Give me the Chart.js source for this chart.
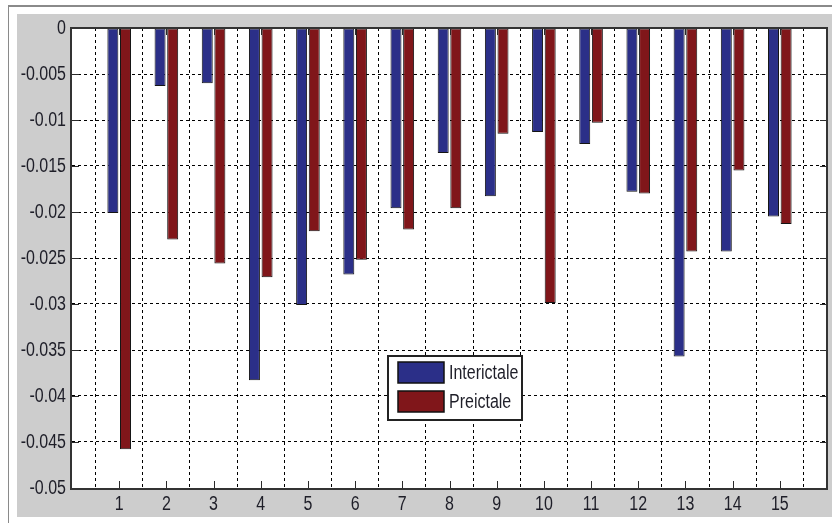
<!DOCTYPE html>
<html>
<head>
<meta charset="utf-8">
<script src="https://cdn.jsdelivr.net/npm/chart.js@4"></script>
<style>
    html, body { margin: 0; padding: 0; background: #ffffff; }
    #wrap { position: relative; width: 832px; height: 523px; overflow: hidden; }
    #frame { position: absolute; left: 8px; top: 5px; width: 830px; height: 530px;
             border-top: 2px solid #8a8a8a; border-left: 1px solid #8a8a8a; }
    #figure { position: absolute; left: 17px; top: 14px; width: 815px; height: 503px; background: #cdcdcd; }
    #chart { position: absolute; left: 0; top: 0; }
</style>
</head>
<body>
<div id="wrap">
    <div id="frame"></div>
    <div id="figure"></div>
    <canvas id="chart" width="832" height="523"></canvas>
</div>
<script>
// categories (channel index)
const categories = [1, 2, 3, 4, 5, 6, 7, 8, 9, 10, 11, 12, 13, 14, 15];

// series values
const interictale = [-0.0201, -0.0063, -0.0060, -0.0383, -0.0301, -0.0268, -0.0196, -0.0136,
                     -0.0183, -0.0113, -0.0126, -0.0178, -0.0357, -0.0243, -0.0205];
const preictale = [-0.0458, -0.0230, -0.0256, -0.0271, -0.0221, -0.0252, -0.0219, -0.0196,
                   -0.0115, -0.0299, -0.0103, -0.0180, -0.0243, -0.0155, -0.0213];

const seriesLabels = ['Interictale', 'Preictale'];

// tick values and their labels
const xTickLabels = ['1', '2', '3', '4', '5', '6', '7', '8', '9', '10', '11', '12', '13', '14', '15'];
const yTicks = [0, -0.005, -0.01, -0.015, -0.02, -0.025, -0.03, -0.035, -0.04, -0.045, -0.05];
const yTickLabels = ['0', '-0.005', '-0.01', '-0.015', '-0.02', '-0.025', '-0.03', '-0.035', '-0.04', '-0.045', '-0.05'];

// MATLAB's narrow Arial look: Liberation Sans squeezed horizontally
const FONT = "20px 'Liberation Sans', Arial, sans-serif";
const SQUEEZE = 0.8;
const TEXT_COLOR = '#1e1e28';

function narrowText(ctx, text, x, y, align) {
    ctx.save();
    ctx.translate(x, y);
    ctx.scale(SQUEEZE, 1);
    ctx.font = FONT;
    ctx.textAlign = align;
    ctx.textBaseline = 'middle';
    ctx.fillStyle = TEXT_COLOR;
    ctx.fillText(text, 0, 0);
    ctx.restore();
}

// white plot background
const plotBackground = {
    id: 'plotBackground',
    beforeDraw(chart) {
        const { ctx, chartArea: a } = chart;
        ctx.save();
        ctx.fillStyle = '#ffffff';
        ctx.fillRect(a.left, a.top, a.right - a.left, a.bottom - a.top);
        ctx.restore();
    }
};

// axes box with inward ticks, tick labels and the legend box inside the plot
const matlabBox = {
    id: 'matlabBox',
    afterDraw(chart) {
        const { ctx, chartArea: a } = chart;
        const x = chart.scales.x;
        const y = chart.scales.y;
        const tick = 7;
        ctx.save();
        ctx.strokeStyle = '#2a2a2a';
        ctx.lineWidth = 1;
        ctx.beginPath();
        categories.forEach(c => {
            const px = Math.round(x.getPixelForValue(c)) + 0.5;
            ctx.moveTo(px, a.bottom); ctx.lineTo(px, a.bottom - tick);
            ctx.moveTo(px, a.top); ctx.lineTo(px, a.top + tick);
        });
        yTicks.forEach(t => {
            const py = Math.round(y.getPixelForValue(t)) + 0.5;
            ctx.moveTo(a.left, py); ctx.lineTo(a.left + tick, py);
            ctx.moveTo(a.right, py); ctx.lineTo(a.right - tick, py);
        });
        ctx.stroke();
        ctx.lineWidth = 2;
        ctx.strokeStyle = '#333333';
        ctx.strokeRect(a.left - 1, a.top, a.right - a.left + 1, a.bottom - a.top + 1);

        // tick labels
        categories.forEach((c, i) => {
            narrowText(ctx, xTickLabels[i], x.getPixelForValue(c), a.bottom + 16, 'center');
        });
        yTicks.forEach((t, i) => {
            narrowText(ctx, yTickLabels[i], a.left - 6, y.getPixelForValue(t), 'right');
        });

        // legend
        const lx = a.left + 316, ly = a.top + 328, lw = 134, lh = 64;
        ctx.fillStyle = '#ffffff';
        ctx.fillRect(lx, ly, lw, lh);
        ctx.lineWidth = 2;
        ctx.strokeStyle = '#222222';
        ctx.strokeRect(lx, ly, lw, lh);
        chart.data.datasets.forEach((ds, i) => {
            const sy = ly + 6 + i * 29;
            ctx.fillStyle = ds.backgroundColor;
            ctx.fillRect(lx + 10, sy, 46, 21);
            ctx.lineWidth = 1.5;
            ctx.strokeStyle = '#111111';
            ctx.strokeRect(lx + 10, sy, 46, 21);
            narrowText(ctx, ds.label, lx + 61, sy + 11, 'left');
        });
        ctx.restore();
    }
};

const ctx = document.getElementById('chart').getContext('2d');
new Chart(ctx, {
    type: 'bar',
    data: {
        datasets: [{
            label: seriesLabels[0],
            data: categories.map((c, i) => ({ x: c, y: interictale[i] })),
            backgroundColor: '#2b2f88',
            borderColor: '#141414',
            borderWidth: 1,
            borderSkipped: false
        }, {
            label: seriesLabels[1],
            data: categories.map((c, i) => ({ x: c, y: preictale[i] })),
            backgroundColor: '#80161a',
            borderColor: '#141414',
            borderWidth: 1,
            borderSkipped: false
        }]
    },
    options: {
        responsive: false,
        animation: false,
        categoryPercentage: 0.535,
        barPercentage: 0.87,
        layout: { padding: { top: 28, right: 5, left: 0, bottom: 0 } },
        plugins: {
            legend: { display: false },
            tooltip: { enabled: false }
        },
        scales: {
            x: {
                type: 'linear',
                min: 0,
                max: 16,
                offset: false,
                afterFit: scale => { scale.height = 35; },
                afterBuildTicks: scale => { scale.ticks = categories.map(c => ({ value: c })); },
                grid: {
                    drawTicks: false,
                    color: '#000000',
                    lineWidth: 1
                },
                border: { display: false, dash: [3, 3] },
                ticks: { display: false }
            },
            y: {
                min: -0.05,
                max: 0,
                afterFit: scale => { scale.width = 72; },
                afterBuildTicks: scale => { scale.ticks = yTicks.map(t => ({ value: t })); },
                grid: {
                    drawTicks: false,
                    color: ctx => (ctx.tick && (ctx.tick.value === 0 || ctx.tick.value === -0.05)) ? 'rgba(0,0,0,0)' : '#000000',
                    lineWidth: 1
                },
                border: { display: false, dash: [3, 3] },
                ticks: { display: false }
            }
        }
    },
    plugins: [plotBackground, matlabBox]
});
</script>
</body>
</html>
